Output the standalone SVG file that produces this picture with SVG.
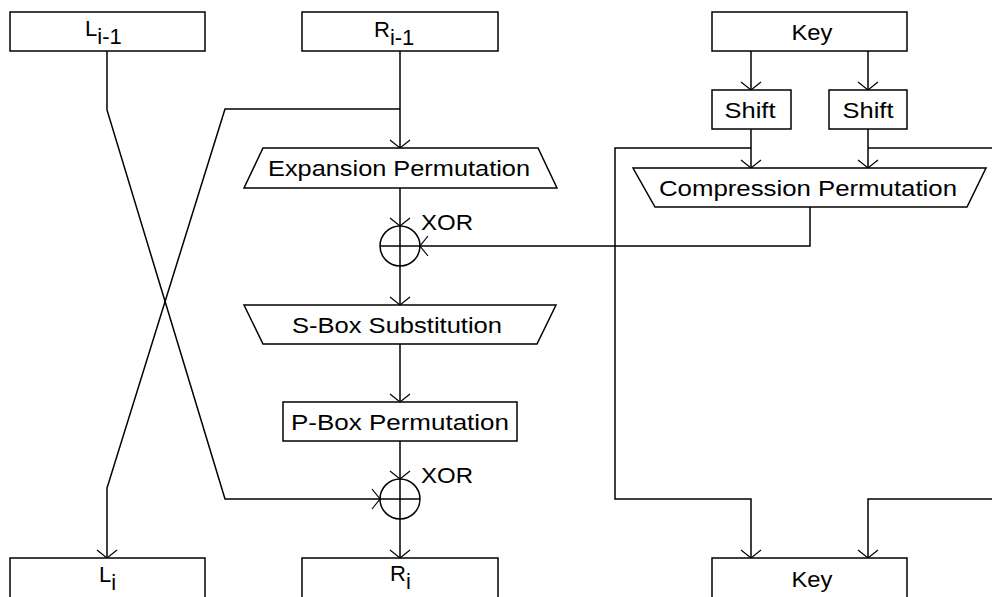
<svg xmlns="http://www.w3.org/2000/svg" width="992" height="597" viewBox="0 0 992 597">
<defs>
<marker id="arr" markerUnits="userSpaceOnUse" markerWidth="24" markerHeight="24" refX="0" refY="0" viewBox="-12 -12 24 24" orient="auto" overflow="visible">
<path d="M -8 -10 L 0 0 L -8 10" fill="none" stroke="#000" stroke-width="1.2"/>
</marker>
<style>
.box{fill:#fff;stroke:#000;stroke-width:1.5}
.ln{fill:none;stroke:#000;stroke-width:1.5}
.t{font-family:"Liberation Sans",Arial,sans-serif;font-size:22px;fill:#000}
.c{text-anchor:middle}
</style>
</defs>
<rect width="992" height="597" fill="#fff"/>
<g id="connectors">
<polyline class="ln" points="107,51 107,110 225,499 380,499" marker-end="url(#arr)"/>
<polyline class="ln" points="400,51 400,148" marker-end="url(#arr)"/>
<polyline class="ln" points="400,109 225,109 107,488 107,558" marker-end="url(#arr)"/>
<polyline class="ln" points="400,188 400,226" marker-end="url(#arr)"/>
<polyline class="ln" points="400,266 400,305" marker-end="url(#arr)"/>
<polyline class="ln" points="400,344 400,402" marker-end="url(#arr)"/>
<polyline class="ln" points="400,441 400,479" marker-end="url(#arr)"/>
<polyline class="ln" points="400,519 400,558" marker-end="url(#arr)"/>
<polyline class="ln" points="751,51 751,90" marker-end="url(#arr)"/>
<polyline class="ln" points="868,51 868,90" marker-end="url(#arr)"/>
<polyline class="ln" points="751,129 751,168" marker-end="url(#arr)"/>
<polyline class="ln" points="868,129 868,168" marker-end="url(#arr)"/>
<polyline class="ln" points="751,148 615,148 615,499 751,499 751,558" marker-end="url(#arr)"/>
<polyline class="ln" points="868,148 1000,148"/>
<polyline class="ln" points="1000,499 868,499 868,558" marker-end="url(#arr)"/>
<polyline class="ln" points="810,207 810,246 420,246" marker-end="url(#arr)"/>
</g>
<g id="L_prev">
<rect class="box" x="10" y="12" width="195" height="39"/>
<text class="t" x="85" y="36">L<tspan dy="8">i-1</tspan></text>
</g>
<g id="R_prev">
<rect class="box" x="302" y="12" width="196" height="39"/>
<text class="t" x="374" y="37">R<tspan dy="8">i-1</tspan></text>
</g>
<g id="Key_top">
<rect class="box" x="712" y="12" width="195" height="39"/>
<text class="t c" x="812" y="40" textLength="41" lengthAdjust="spacingAndGlyphs">Key</text>
</g>
<g id="Shift_left">
<rect class="box" x="712" y="90" width="79" height="39"/>
<text class="t c" x="750" y="118" textLength="51" lengthAdjust="spacingAndGlyphs">Shift</text>
</g>
<g id="Shift_right">
<rect class="box" x="829" y="90" width="78" height="39"/>
<text class="t c" x="868" y="118" textLength="51" lengthAdjust="spacingAndGlyphs">Shift</text>
</g>
<g id="Expansion">
<polygon class="box" points="263,148 538,148 557,188 244,188"/>
<text class="t c" x="399" y="176" textLength="262" lengthAdjust="spacingAndGlyphs">Expansion Permutation</text>
</g>
<g id="Compression">
<polygon class="box" points="633,168 986,168 967,207 655,207"/>
<text class="t c" x="808" y="196" textLength="298" lengthAdjust="spacingAndGlyphs">Compression Permutation</text>
</g>
<g id="XOR1">
<circle class="ln" cx="400" cy="246" r="20"/>
<line class="ln" x1="380" y1="246" x2="420" y2="246"/>
<line class="ln" x1="400" y1="226" x2="400" y2="266"/>
<text class="t" x="421" y="230" textLength="52" lengthAdjust="spacingAndGlyphs">XOR</text>
</g>
<g id="SBox">
<polygon class="box" points="244,305 556,305 537,344 263,344"/>
<text class="t c" x="397" y="333" textLength="210" lengthAdjust="spacingAndGlyphs">S-Box Substitution</text>
</g>
<g id="PBox">
<rect class="box" x="283" y="402" width="234" height="39"/>
<text class="t c" x="400" y="430" textLength="218" lengthAdjust="spacingAndGlyphs">P-Box Permutation</text>
</g>
<g id="XOR2">
<circle class="ln" cx="400" cy="499" r="20"/>
<line class="ln" x1="380" y1="499" x2="420" y2="499"/>
<line class="ln" x1="400" y1="479" x2="400" y2="519"/>
<text class="t" x="421" y="483" textLength="52" lengthAdjust="spacingAndGlyphs">XOR</text>
</g>
<g id="L_i">
<rect class="box" x="10" y="558" width="195" height="42"/>
<text class="t" x="99" y="582">L<tspan dy="8">i</tspan></text>
</g>
<g id="R_i">
<rect class="box" x="302" y="558" width="196" height="42"/>
<text class="t" x="390" y="581">R<tspan dy="8">i</tspan></text>
</g>
<g id="Key_bottom">
<rect class="box" x="712" y="558" width="195" height="42"/>
<text class="t c" x="812" y="587" textLength="41" lengthAdjust="spacingAndGlyphs">Key</text>
</g>
</svg>
